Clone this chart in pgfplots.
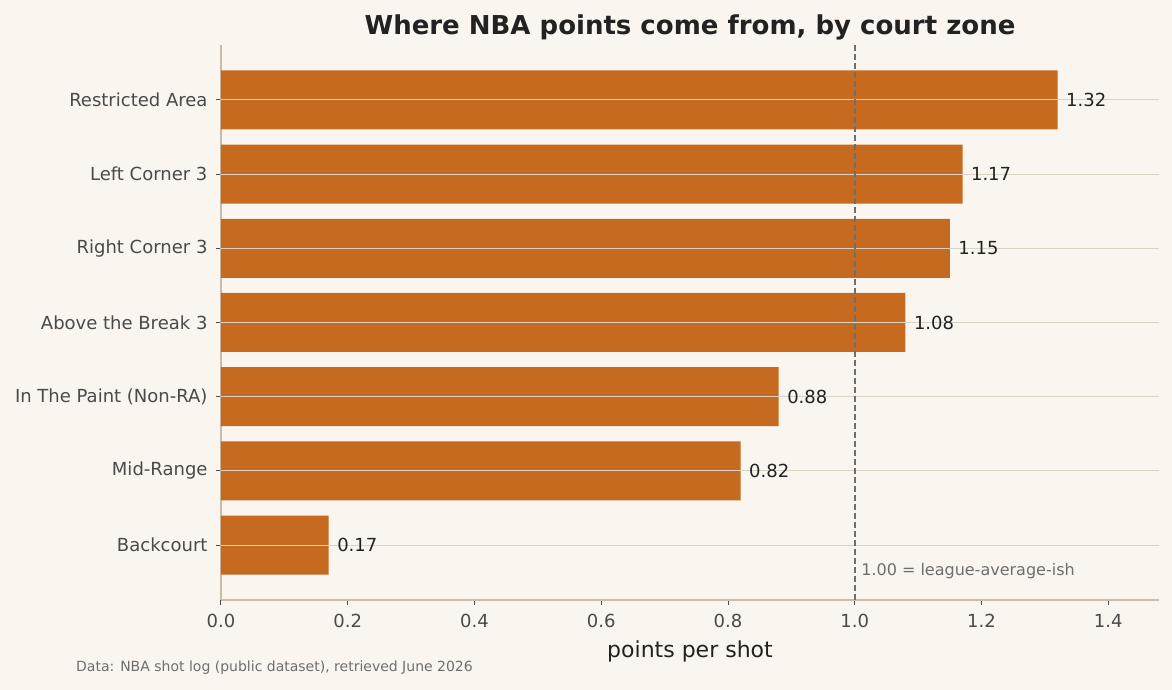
\documentclass[border=0pt]{standalone}
\usepackage{fontspec}
\setmainfont{DejaVu Sans}
\usepackage{pgfplots}
\pgfplotsset{compat=1.18}
\definecolor{bg}{HTML}{FAF6EF}
\definecolor{barc}{HTML}{C56A1F}
\definecolor{gridc}{HTML}{DAD3C4}
\definecolor{spine}{HTML}{C9BDA8}
\definecolor{tickc}{HTML}{4A4A4A}
\definecolor{titlec}{HTML}{222222}
\definecolor{notec}{HTML}{6E6E6E}
\begin{document}
\begin{tikzpicture}[x=1pt,y=1pt]
\fill[bg] (0,0) rectangle (1172,690);
\begin{axis}[
  at={(221pt,90pt)}, anchor=south west,
  width=938pt, height=555pt, scale only axis,
  xmin=0, xmax=1.48, ymin=-0.74, ymax=6.74,
  axis x line*=bottom, axis y line*=left,
  axis line style={spine, line width=1.3pt, -},
  ytick={0,1,2,3,4,5,6},
  yticklabels={Backcourt, Mid-Range, In The Paint (Non-RA), Above the Break 3, Right Corner 3, Left Corner 3, Restricted Area},
  xtick={0,0.2,0.4,0.6,0.8,1.0,1.2,1.4},
  /pgf/number format/.cd, fixed, fixed zerofill, precision=1, assume math mode=true,
  /pgfplots/.cd,
  tick style={tickc, line width=1pt},
  major tick length=5pt, tick align=outside,
  ticklabel style={font=\fontsize{18}{21}\selectfont, color=tickc},
  xticklabel style={yshift=-6pt},
  yticklabel style={xshift=-5pt},
  xlabel={points per shot},
  xlabel style={font=\fontsize{22}{26}\selectfont, color=titlec, yshift=-6pt},
]
\addplot[xbar, bar width=59pt, bar shift=0pt, fill=barc, draw=none]
  coordinates {(0.17,0) (0.82,1) (0.88,2) (1.08,3) (1.15,4) (1.17,5) (1.32,6)};
\pgfplotsinvokeforeach{0,1,2,3,4,5,6}{
  \draw[gridc, line width=1pt] (axis cs:0,#1) -- (axis cs:1.48,#1);
}
\draw[color=notec, dash pattern=on 6pt off 3pt, line width=1.5pt]
  (axis cs:1,-0.74) -- (axis cs:1,6.74);
\addplot[draw=none, mark=none, nodes near coords, point meta=explicit symbolic,
  nodes near coords align={horizontal},
  every node near coord/.append style={anchor=west, font=\fontsize{18}{21}\selectfont, color=titlec, xshift=5pt}]
  coordinates {(0.17,0) [0.17] (0.82,1) [0.82] (0.88,2) [0.88] (1.08,3) [1.08] (1.15,4) [1.15] (1.17,5) [1.17] (1.32,6) [1.32]};
\node[anchor=west, font=\fontsize{16}{19}\selectfont, color=notec, xshift=3pt]
  at (axis cs:1,-0.35) {1.00 = league-average-ish};
\end{axis}
\node[font=\bfseries\fontsize{26}{31}\selectfont, color=titlec] at (690,663) {Where NBA points come from, by court zone};
\node[anchor=west, font=\fontsize{14}{17}\selectfont, color=notec, inner sep=0pt] at (76,22) {Data: NBA shot log (public dataset), retrieved June 2026};
\end{tikzpicture}
\end{document}
